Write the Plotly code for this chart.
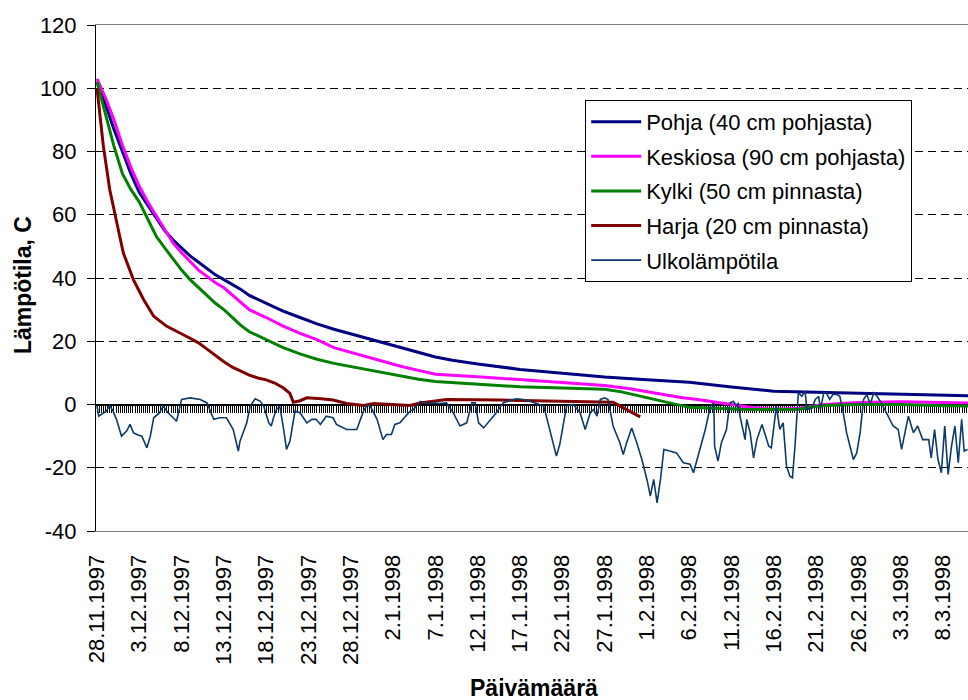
import pandas as pd
import plotly.graph_objects as go

# ---------------- data (day offsets from 28.11.1997) ----------------
start_date = "1997-11-28"

pohja_days = [0, 1, 2, 3, 4, 5, 6, 7, 8, 9, 10, 11, 12, 13, 14, 15, 16, 17, 18, 20, 22, 24, 26, 28, 30,
              32, 34, 36, 38, 40, 42, 45, 50, 55, 60, 65, 70, 75, 80, 85, 90, 95, 100, 103]
pohja_temp = [102, 95, 87, 80, 73, 67, 63, 59, 55, 52, 49.5, 47, 45, 43, 41, 39.5, 38, 36.4, 34.5, 32,
              29.5, 27.5, 25.5, 23.8, 22.3, 20.8, 19.3, 17.8, 16.4, 15, 14, 12.8, 11.1, 9.8, 8.7, 7.8,
              7, 5.5, 4.2, 3.9, 3.6, 3.4, 3.0, 2.8]

keski_days = [0, 1, 2, 3, 4, 5, 6, 7, 8, 9, 10, 11, 12, 13, 14, 15, 16, 17, 18, 20, 22, 24, 26, 28, 30,
              32, 34, 36, 38, 40, 45, 50, 55, 60, 63, 66, 69, 71, 74, 77, 80, 83, 86, 90, 95, 100, 103]
keski_temp = [103, 97, 90, 82, 75, 69, 64, 59.6, 55, 51, 48, 45.3, 42.5, 40.5, 38.5, 36.9, 34.5, 32.2,
              30, 27.5, 24.8, 22.5, 20.5, 18, 16.5, 15, 13.5, 12, 10.8, 9.6, 8.8, 7.9, 7, 6, 5, 3.5,
              2.2, 1.6, 0.5, -0.8, -1.5, -1.2, 0, 0.6, 0.9, 0.7, 0.5]

kylki_days = [0, 1, 2, 3, 4, 5, 6, 7, 8, 9, 10, 11, 12, 13, 14, 15, 16, 17, 18, 20, 22, 24, 26, 28, 30,
              32, 34, 36, 38, 40, 45, 50, 55, 60, 62, 64, 66, 68, 70, 73, 76, 80, 83, 84.5, 86, 90, 95,
              100, 103]
kylki_temp = [102, 92, 81.7, 73, 68, 64, 58.5, 53.2, 49.5, 46, 42.5, 39.5, 37, 34.5, 32, 30, 27.5, 25,
              23, 20.5, 18, 16, 14.3, 13, 12, 11, 10, 9, 8, 7.3, 6.5, 5.6, 5.2, 4.8, 4, 2.8, 1.5, 0.3,
              -0.9, -1.2, -1.5, -1.6, -1.5, -0.8, -0.3, 0, 0, -0.4, -0.5]

harja_days = [0, 0.75, 1.5, 2.3, 3.1, 4.3, 5.5, 6.7, 8.2, 10.6, 12, 13, 14, 15, 16, 17, 18, 19, 20, 21,
              22, 22.8, 23.2, 24, 24.8, 26.5, 27.9, 29.5, 31.5, 32.7, 35, 37, 38.2, 41.3, 47.6, 55.5,
              61, 62.6, 64.2]
harja_temp = [100, 81.7, 68, 58.5, 48, 39.5, 33.2, 27.9, 24.8, 21.5, 19.5, 17.5, 15.5, 13.5, 11.8, 10.5,
              9.3, 8.4, 7.8, 6.8, 5.3, 3.5, 0.7, 1.2, 2.1, 1.8, 1.4, 0.3, -0.3, 0.3, 0, -0.3, 0.5, 1.6,
              1.4, 1.1, 0.7, -1.6, -3.9]

ulko_days = [0.0, 0.2, 1.1, 1.5, 1.9, 2.3, 2.9, 3.5, 3.9, 4.3, 4.7, 5.3, 5.9, 6.3, 6.7, 7.4, 7.8, 8.4,
             9.0, 9.4, 10.0, 11.0, 12.2, 13.0, 13.8, 14.5, 15.3, 16.1, 16.7, 16.9, 17.7, 18.1, 18.7,
             19.3, 19.7, 20.3, 20.6, 20.8, 21.2, 21.6, 22.0, 22.4, 22.8, 23.2, 23.4, 24.0, 24.8, 25.4,
             25.9, 26.4, 27.1, 27.9, 28.3, 29.5, 30.7, 31.5, 31.9, 32.3, 33.1, 33.8, 34.2, 34.8, 35.2,
             35.8, 36.6, 37.0, 37.4, 38.2, 39.0, 39.8, 40.5, 41.3, 42.1, 42.9, 43.7, 44.3, 44.7, 45.1,
             45.7, 46.4, 47.2, 48.0, 48.8, 49.6, 50.4, 51.2, 52.0, 52.8, 53.2, 53.7, 54.3, 54.7, 55.1,
             55.5, 56.3, 57.1, 57.7, 58.3, 58.7, 59.1, 59.5, 60.0, 60.4, 61.0, 61.8, 62.2, 62.6, 63.2,
             63.8, 64.4, 65.0, 65.4, 65.8, 66.2, 66.6, 67.0, 67.7, 68.5, 69.3, 70.1, 70.5, 70.9, 71.3,
             71.9, 72.5, 72.9, 73.0, 73.4, 73.8, 74.4, 74.8, 75.2, 75.6, 75.8, 76.0, 76.6, 76.8, 77.2,
             77.6, 78.0, 78.6, 79.0, 79.4, 79.7, 80.1, 80.3, 80.7, 81.1, 81.5, 81.9, 82.2, 82.5, 82.9,
             83.3, 83.7, 83.9, 84.5, 84.9, 85.3, 85.5, 85.9, 86.2, 86.6, 87.0, 87.4, 87.8, 88.2, 88.6,
             89.0, 89.4, 89.8, 90.2, 90.6, 91.0, 91.4, 91.8, 92.2, 92.7, 93.3, 94.1, 94.7, 95.1, 95.5,
             95.9, 96.5, 97.0, 97.6, 98.3, 98.6, 99.0, 99.4, 99.8, 100.2, 100.6, 101.0, 101.4, 101.8,
             102.2, 102.5, 102.9]
ulko_temp = [-0.5, -3.7, -2.1, -0.3, -2.1, -4.7, -10, -8.4, -6.3, -8.9, -9.5, -10, -13.7, -10, -4.2,
             -2.6, -0.5, -2.6, -4.2, -5.3, 1.6, 2.1, 1.6, 0.5, -4.7, -4.2, -4.2, -7.9, -14.7, -11.6,
             -5.8, -0.5, 1.8, 1.0, -0.5, -5.8, -6.8, -4.7, -1.6, -0.5, -6.8, -14.2, -11.6, -5.8, -2.1,
             -2.6, -5.8, -4.7, -4.7, -6.3, -3.7, -4.2, -6.3, -7.9, -7.9, -2.1, -0.3, -0.5, -4.7, -11.1,
             -9.5, -9.5, -6.3, -5.8, -3.2, -2.1, -1.6, 1.0, 0.3, 0.5, 0.3, 0.5, -2.6, -6.8, -5.8, 0.5,
             0.5, -5.8, -7.4, -5.3, -2.6, 0.5, 1.3, 1.8, 1.6, 1.0, 0.3, -0.5, -4.7, -10, -16.3, -12.6,
             -6.8, -0.5, 0, -2.6, -7.9, -2.6, -1.6, -3.7, 1.6, 2.1, 1.6, -6.8, -12.1, -15.8, -12.1,
             -7.4, -12.1, -17.4, -23.7, -29, -23.7, -31.1, -23.7, -14.2, -14.7, -15.3, -18.4, -18.9,
             -21.6, -17.9, -14.2, -7.9, -0.5, 0.5, -13.2, -17.9, -12.1, -7.9, 0.5, 1.0, -0.5, 0.5,
             -3.7, -11.1, -4.7, -8.9, -16.9, -11.1, -6.3, -9.5, -13.2, -13.7, -5.8, -0.5, -7.9, -5.8,
             -19.5, -22.7, -23.2, -13.2, 3.7, 2.6, 4.2, -1.6, -1.1, 1.6, 2.6, -1.6, 3.7, 3.7, 1.6, 3.2,
             3.2, 2.6, -2.6, -8.9, -13.2, -17.4, -15.3, -8.9, 1.6, 3.2, 0, 3.7, 2.6, 0.5, -2.6, -6.8,
             -7.9, -14.2, -8.9, -3.7, -8.9, -6.8, -11.1, -11.1, -16.9, -7.9, -17.4, -21.6, -6.8, -22.1,
             -13.2, -6.8, -18.4, -4.7, -14.7, -14.2]

tick_days = [0, 5, 10, 15, 20, 25, 30, 35, 40, 45, 50, 55, 60, 65, 70, 75, 80, 85, 90, 95, 100]
tick_labels = ["28.11.1997", "3.12.1997", "8.12.1997", "13.12.1997", "18.12.1997", "23.12.1997",
               "28.12.1997", "2.1.1998", "7.1.1998", "12.1.1998", "17.1.1998", "22.1.1998",
               "27.1.1998", "1.2.1998", "6.2.1998", "11.2.1998", "16.2.1998", "21.2.1998",
               "26.2.1998", "3.3.1998", "8.3.1998"]
y_ticks = [-40, -20, 0, 20, 40, 60, 80, 100, 120]
y_tick_labels = ["-40", "-20", "0", "20", "40", "60", "80", "100", "120"]

series_names = ["Pohja (40 cm pohjasta)", "Keskiosa (90 cm pohjasta)", "Kylki (50 cm pinnasta)",
                "Harja (20 cm pinnasta)", "Ulkolämpötila"]
series_colors = ["#000080", "#FF00FF", "#008000", "#800000", "#0B3B6B"]
series_widths = [3, 3, 3, 3, 1.6]

# ---------------- helpers ----------------
t0 = pd.Timestamp(start_date)


def to_dates(days):
    return [t0 + pd.Timedelta(days=d) for d in days]


FONT = "Liberation Sans, Arial, sans-serif"
x_range = [t0 + pd.Timedelta(days=-0.12), t0 + pd.Timedelta(days=102.95)]

fig = go.Figure()

all_days = [pohja_days, keski_days, kylki_days, harja_days, ulko_days]
all_temp = [pohja_temp, keski_temp, kylki_temp, harja_temp, ulko_temp]
for i, name in enumerate(series_names):
    fig.add_trace(go.Scatter(
        x=to_dates(all_days[i]), y=all_temp[i], mode="lines", name=name,
        legendgroup="g%d" % i,
        line=dict(color=series_colors[i], width=series_widths[i]),
    ))

# invisible trace to anchor the hatched zero axis
fig.add_trace(go.Scatter(x=[x_range[0]], y=[0], xaxis="x2", mode="markers",
                         marker=dict(opacity=0), showlegend=False, hoverinfo="skip"))

fig.update_layout(
    width=968, height=700,
    margin=dict(l=96, r=0, t=25, b=169),
    paper_bgcolor="white", plot_bgcolor="white",
    font=dict(family=FONT, size=22, color="black"),
    showlegend=True,
    legend=dict(x=0.561, y=0.852, xanchor="left", yanchor="top",
                bordercolor="black", borderwidth=1, bgcolor="white",
                font=dict(family=FONT, size=22, color="black"),
                tracegroupgap=3, itemwidth=50),
    xaxis=dict(type="date", range=x_range, automargin=False,
               tickmode="array", tickvals=to_dates(tick_days), ticktext=tick_labels,
               tickangle=-90, ticks="", showgrid=False,
               showline=True, linecolor="#808080", linewidth=1, mirror=True,
               tickfont=dict(family=FONT, size=22, color="black"),
               ticklabelstandoff=14),
    xaxis2=dict(type="date", range=x_range, overlaying="x", anchor="free", position=0.25,
                automargin=False,
                showline=True, linecolor="black", linewidth=1,
                ticks="outside", ticklen=7, tickwidth=1, tickcolor="black",
                tick0=start_date, dtick=6 * 3600 * 1000,
                showticklabels=False, showgrid=False, layer="below traces"),
    yaxis=dict(range=[-40, 120], tickmode="array", tickvals=y_ticks, ticktext=y_tick_labels,
               automargin=False,
               ticks="outside", ticklen=8, tickcolor="black",
               showline=True, linecolor="black", linewidth=1,
               showgrid=True, gridcolor="black", gridwidth=1, griddash="8px,5px",
               zeroline=True, zerolinecolor="black", zerolinewidth=1,
               tickfont=dict(family=FONT, size=22, color="black"),
               ticklabelstandoff=6),
    annotations=[
        dict(text="<b>Päivämäärä</b>", xref="paper", yref="paper", x=0.502, y=-0.31,
             xanchor="center", yanchor="middle", showarrow=False,
             font=dict(family=FONT, size=23, color="black")),
        dict(text="<b>Lämpötila, C</b>", xref="paper", yref="paper", x=-0.0837, y=0.486,
             xanchor="center", yanchor="middle", showarrow=False, textangle=-90,
             font=dict(family=FONT, size=23, color="black")),
    ],
)

fig.write_html("out.html", config={"displayModeBar": False},
               post_script="document.body.style.margin='0px';document.body.style.overflow='hidden';")
